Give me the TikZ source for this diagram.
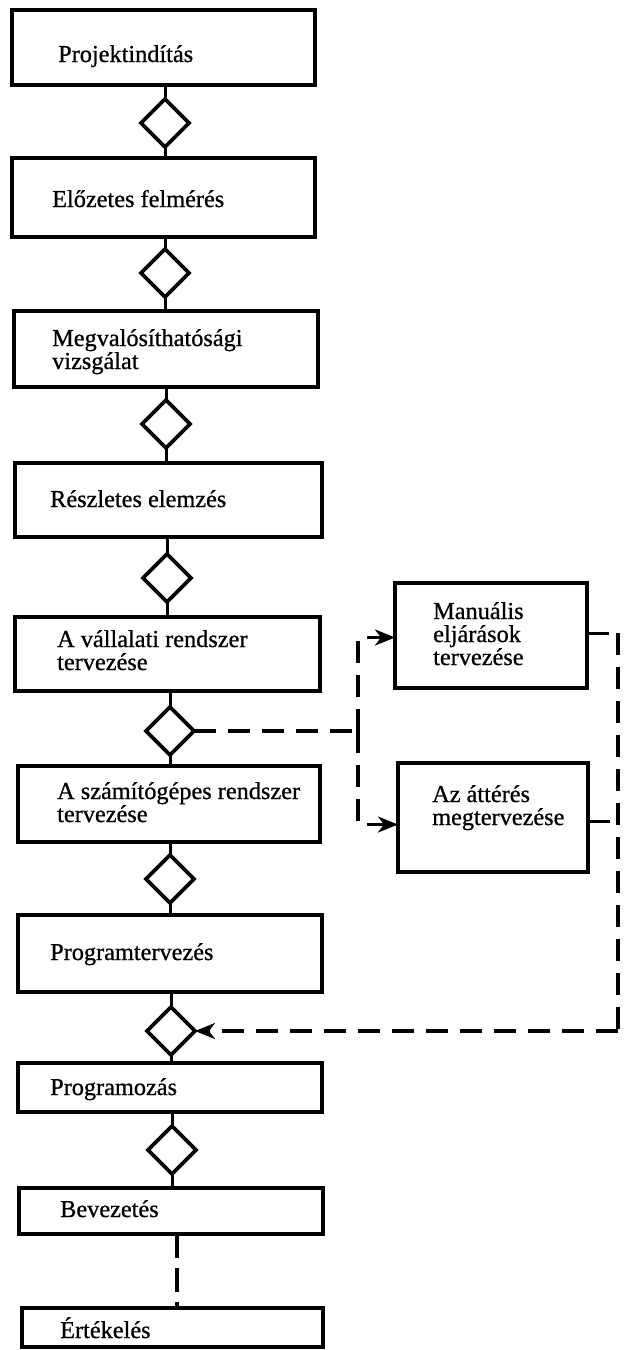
\documentclass[tikz,border=0pt]{standalone}
\usepackage{fontspec}
\setmainfont{Liberation Serif}
\newfontfamily\printfont[FakeBold=0.8]{Liberation Serif}
\usetikzlibrary{shapes.geometric,arrows.meta}
\begin{document}
\begin{tikzpicture}[x=1pt,y=-1pt,
  box/.style={draw, line width=3.4pt, rectangle, inner sep=0pt, outer sep=0pt},
  dia/.style={draw, diamond, line width=3.7pt, minimum width=48pt, minimum height=48pt, inner sep=0pt, outer sep=0pt},
  lbl/.style={anchor=base west, align=left, inner sep=0pt, font=\printfont\fontsize{24.3pt}{23pt}\selectfont},
  conn/.style={line width=3pt},
  dconn/.style={line width=3.2pt, dash pattern=on 22pt off 12pt},
  arr/.style={-{Stealth[length=20pt,width=16pt,inset=6pt]}}
]
\useasboundingbox (0,0) rectangle (631,1350);
\fill[white] (0,0) rectangle (631,1350);

% main column boxes
\node[box, minimum width=303pt, minimum height=75pt] (b1) at (163.5,47.5) {};
\node[box, minimum width=303pt, minimum height=79pt] (b2) at (163.5,197.5) {};
\node[box, minimum width=304pt, minimum height=76pt] (b3) at (166,349) {};
\node[box, minimum width=307pt, minimum height=74pt] (b4) at (168.5,500) {};
\node[box, minimum width=305pt, minimum height=74pt] (b5) at (167.5,654) {};
\node[box, minimum width=302pt, minimum height=76pt] (b6) at (169,804) {};
\node[box, minimum width=304pt, minimum height=77pt] (b7) at (170,953.5) {};
\node[box, minimum width=304pt, minimum height=49pt] (b8) at (170,1087.5) {};
\node[box, minimum width=304pt, minimum height=46pt] (b9) at (171,1211) {};
\node[box, minimum width=301pt, minimum height=39pt] (b10) at (172.5,1327.5) {};

% right column boxes
\node[box, minimum width=192pt, minimum height=105pt] (bm) at (491,635.5) {};
\node[box, minimum width=190pt, minimum height=109pt] (ba) at (493,817.5) {};

% diamonds
\node[dia] (d1) at (165,123) {};
\node[dia] (d2) at (165,273) {};
\node[dia] (d3) at (166,424) {};
\node[dia] (d4) at (167,578) {};
\node[dia] (d5) at (170,731) {};
\node[dia] (d6) at (170,879) {};
\node[dia] (d7) at (171,1031) {};
\node[dia] (d8) at (172,1150) {};

% labels (base = baseline of the last line)
\node[lbl] (t1) at (58,62) {Projektindítás};
\node[lbl] (t2) at (52,207) {Előzetes felmérés};
\node[lbl] (t3) at (52,369) {Megvalósíthatósági\\vizsgálat};
\node[lbl] (t4) at (50,507) {Részletes elemzés};
\node[lbl] (t5) at (57,670) {A vállalati rendszer\\tervezése};
\node[lbl] (t6) at (57,822) {A számítógépes rendszer\\tervezése};
\node[lbl] (t7) at (50,960) {Programtervezés};
\node[lbl] (t8) at (50,1095) {Programozás};
\node[lbl] (t9) at (60,1217) {Bevezetés};
\node[lbl] (t10) at (60,1338) {Értékelés};
\node[lbl] (tm) at (433,665) {Manuális\\eljárások\\tervezése};
\node[lbl] (ta) at (432,825) {Az áttérés\\megtervezése};

% solid connectors
\foreach \b/\d/\n in {b1/d1/b2, b2/d2/b3, b3/d3/b4, b4/d4/b5, b5/d5/b6, b6/d6/b7, b7/d7/b8, b8/d8/b9}{
  \draw[conn] (\d.north |- \b.south) -- (\d.north);
  \draw[conn] (\d.south) -- (\d.south |- \n.north);
}

% dashed connectors
\coordinate (c1) at (358,731);
\coordinate (r1) at (618,633);
\coordinate (r2) at (618,1031);
\coordinate (mw) at ([yshift=-2pt]bm.west);
\coordinate (aw) at ([yshift=-7pt]ba.west);
\coordinate (me) at ([yshift=2pt]bm.east);
\coordinate (ae) at ([yshift=-4pt]ba.east);
\coordinate (bv1) at (177,1234);
\coordinate (bv2) at (177,1308);
\draw[dconn] (d5.east) -- (c1);
\draw[dconn, arr] (c1) |- (mw);
\draw[dconn, arr] (c1) |- (aw);
\draw[dconn] (me) -- (me -| r1);
\draw[dconn] (r1) -- (r2);
\draw[dconn] (ae) -- (ae -| r1);
\draw[dconn, arr] (r2) -- (d7.east);
\draw[dconn, dash pattern=on 24pt off 10pt] (bv1) -- (bv2);
\end{tikzpicture}
\end{document}
